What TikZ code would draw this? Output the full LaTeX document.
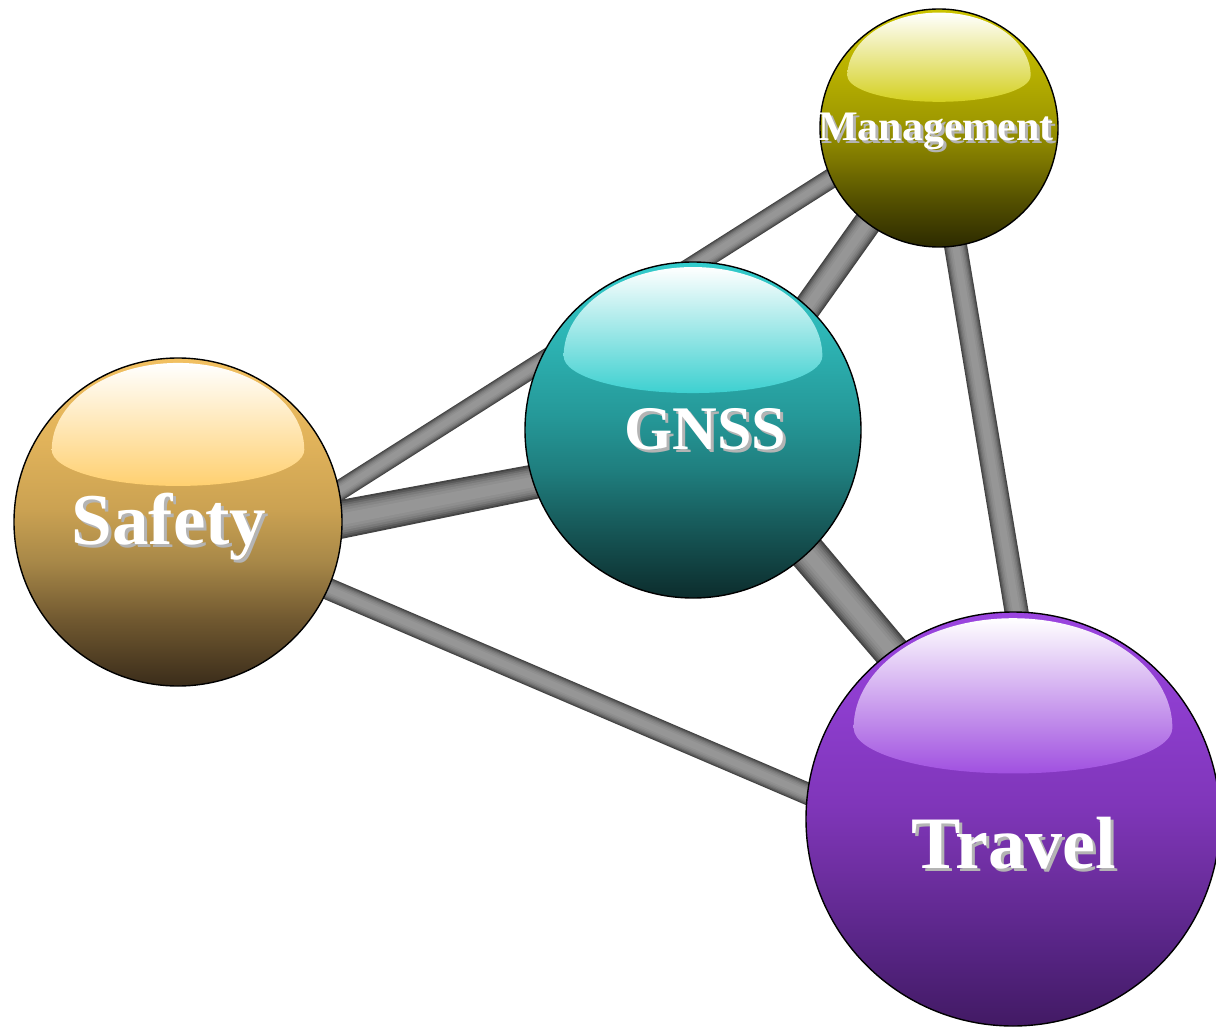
\documentclass[tikz,border=0pt]{standalone}
\usepackage{fontspec}
\setmainfont{Liberation Serif}
\usetikzlibrary{calc}
\pgfdeclarelayer{bg}
\pgfsetlayers{bg,main}
% tube layer colours (edge -> centre)
\definecolor{tA}{HTML}{444444}
\definecolor{tB}{HTML}{585858}
\definecolor{tC}{HTML}{6A6A6A}
\definecolor{tD}{HTML}{7A7A7A}
\definecolor{tE}{HTML}{868686}
\definecolor{tF}{HTML}{8F8F8F}
\definecolor{tG}{HTML}{969696}
% sphere colours
\definecolor{saA}{HTML}{F2C060}\definecolor{saB}{HTML}{E0B25A}\definecolor{saC}{HTML}{CBA252}
\definecolor{saD}{HTML}{A88848}\definecolor{saE}{HTML}{705830}\definecolor{saF}{HTML}{3A2C1A}
\definecolor{gnA}{HTML}{33CCCC}\definecolor{gnB}{HTML}{2CB0B0}\definecolor{gnC}{HTML}{259898}
\definecolor{gnD}{HTML}{1F7E7E}\definecolor{gnE}{HTML}{165656}\definecolor{gnF}{HTML}{0C2C2C}
\definecolor{maA}{HTML}{CCC400}\definecolor{maB}{HTML}{B8B000}\definecolor{maC}{HTML}{A09A00}
\definecolor{maD}{HTML}{807A00}\definecolor{maE}{HTML}{555100}\definecolor{maF}{HTML}{2C2A00}
\definecolor{trA}{HTML}{9B45E0}\definecolor{trB}{HTML}{8B3CCB}\definecolor{trC}{HTML}{8036BA}
\definecolor{trD}{HTML}{6F2FA2}\definecolor{trE}{HTML}{582586}\definecolor{trF}{HTML}{421A64}
\definecolor{saHL}{HTML}{FFD070}
\definecolor{gnHL}{HTML}{3DD0D0}
\definecolor{maHL}{HTML}{D4D020}
\definecolor{trHL}{HTML}{A050E0}
\definecolor{shadowgray}{HTML}{B4B4B4}
\pgfdeclareverticalshading{safetysh}{100bp}{color(0bp)=(saF); color(25bp)=(saF); color(35bp)=(saE); color(44bp)=(saD); color(52bp)=(saC); color(62bp)=(saB); color(75bp)=(saA); color(100bp)=(saA)}
\pgfdeclareverticalshading{gnsssh}{100bp}{color(0bp)=(gnF); color(25bp)=(gnF); color(35bp)=(gnE); color(44bp)=(gnD); color(52bp)=(gnC); color(62bp)=(gnB); color(75bp)=(gnA); color(100bp)=(gnA)}
\pgfdeclareverticalshading{mgmtsh}{100bp}{color(0bp)=(maF); color(25bp)=(maF); color(35bp)=(maE); color(44bp)=(maD); color(52bp)=(maC); color(62bp)=(maB); color(75bp)=(maA); color(100bp)=(maA)}
\pgfdeclareverticalshading{travelsh}{100bp}{color(0bp)=(trF); color(25bp)=(trF); color(35bp)=(trE); color(44bp)=(trD); color(52bp)=(trC); color(62bp)=(trB); color(75bp)=(trA); color(100bp)=(trA)}
\tikzset{
  sphere/.style={circle, draw=black, line width=1.4pt, inner sep=0pt, outer sep=0pt},
  labeltext/.style={anchor=base, inner sep=0pt, text=white},
  labelshadow/.style={anchor=base, inner sep=0pt, text=shadowgray},
}
% tube between two named coordinates, #3/#4 half widths at the ends
\newcommand\tubelink[4]{%
  \foreach \f/\c in {1/tA,0.9/tB,0.8/tC,0.7/tD,0.58/tE,0.45/tF,0.3/tG}{%
    \fill[\c] ($(#1)!\f*#3!90:(#2)$) -- ($(#2)!\f*#4!-90:(#1)$)
      -- ($(#2)!\f*#4!90:(#1)$) -- ($(#1)!\f*#3!-90:(#2)$) -- cycle;
  }}
% glossy highlight on a sphere: node, radius, colour
\newcommand\gloss[3]{%
  \shade[top color=white, bottom color=#3]
    ($(#1.center)+(-0.77*#2,0.44*#2)$)
    arc[start angle=180, end angle=0, x radius=0.77*#2, y radius=0.53*#2]
    arc[start angle=0, end angle=-180, x radius=0.77*#2, y radius=0.22*#2] -- cycle;}
% label with drop shadow: name, x, baseline y, size, text
\newcommand\glabel[5]{%
  \node[labelshadow, font=\fontsize{#4}{#4}\selectfont\bfseries] (#1s) at (#2+3,-#3-3) {#5};
  \node[labeltext, font=\fontsize{#4}{#4}\selectfont\bfseries] (#1) at (#2,-#3) {#5};}
\begin{document}
\begin{tikzpicture}[x=1pt,y=1pt]
\useasboundingbox (0,0) rectangle (1216,-1027);
% spheres
\node[sphere, minimum size=328pt, shading=safetysh] (safety) at (178,-522) {};
\node[sphere, minimum size=336pt, shading=gnsssh] (gnss) at (693,-430) {};
\node[sphere, minimum size=238pt, shading=mgmtsh] (mgmt) at (939,-128) {};
\node[sphere, minimum size=414pt, shading=travelsh] (travel) at (1013,-819) {};
% connectors (behind)
\begin{pgfonlayer}{bg}
  \coordinate (sgA) at ($(safety.1)!-25pt!(gnss.198)$);
  \coordinate (sgB) at ($(gnss.198)!-25pt!(safety.1)$);
  \coordinate (smA) at ($(safety.11)!-25pt!(mgmt.205)$);
  \coordinate (smB) at ($(mgmt.205)!-25pt!(safety.11)$);
  \coordinate (gmA) at ($(gnss.47)!-25pt!(mgmt.233)$);
  \coordinate (gmB) at ($(mgmt.233)!-25pt!(gnss.47)$);
  \coordinate (mtA) at ($(mgmt.278)!-25pt!(travel.89)$);
  \coordinate (mtB) at ($(travel.89)!-25pt!(mgmt.278)$);
  \coordinate (gtA) at ($(gnss.313)!-25pt!(travel.126)$);
  \coordinate (gtB) at ($(travel.126)!-25pt!(gnss.313)$);
  \coordinate (stA) at ($(safety.336)!-25pt!(travel.173)$);
  \coordinate (stB) at ($(travel.173)!-25pt!(safety.336)$);
  \tubelink{smA}{smB}{10pt}{10pt}
  \tubelink{stA}{stB}{11pt}{11pt}
  \tubelink{mtA}{mtB}{11.5pt}{12pt}
  \tubelink{gmA}{gmB}{14pt}{14pt}
  \tubelink{gtA}{gtB}{19pt}{18pt}
  \tubelink{sgA}{sgB}{19.5pt}{17pt}
\end{pgfonlayer}
% glossy highlights
\gloss{safety}{164}{saHL}
\gloss{gnss}{168}{gnHL}
\gloss{mgmt}{119}{maHL}
\gloss{travel}{207}{trHL}
% labels
\glabel{safetylabel}{169}{544}{73}{Safety}
\glabel{gnsslabel}{705}{449}{62}{GNSS}
\glabel{mgmtlabel}{936}{141}{42}{Management}
\glabel{travellabel}{1014}{868}{74}{Travel}
\end{tikzpicture}
\end{document}
